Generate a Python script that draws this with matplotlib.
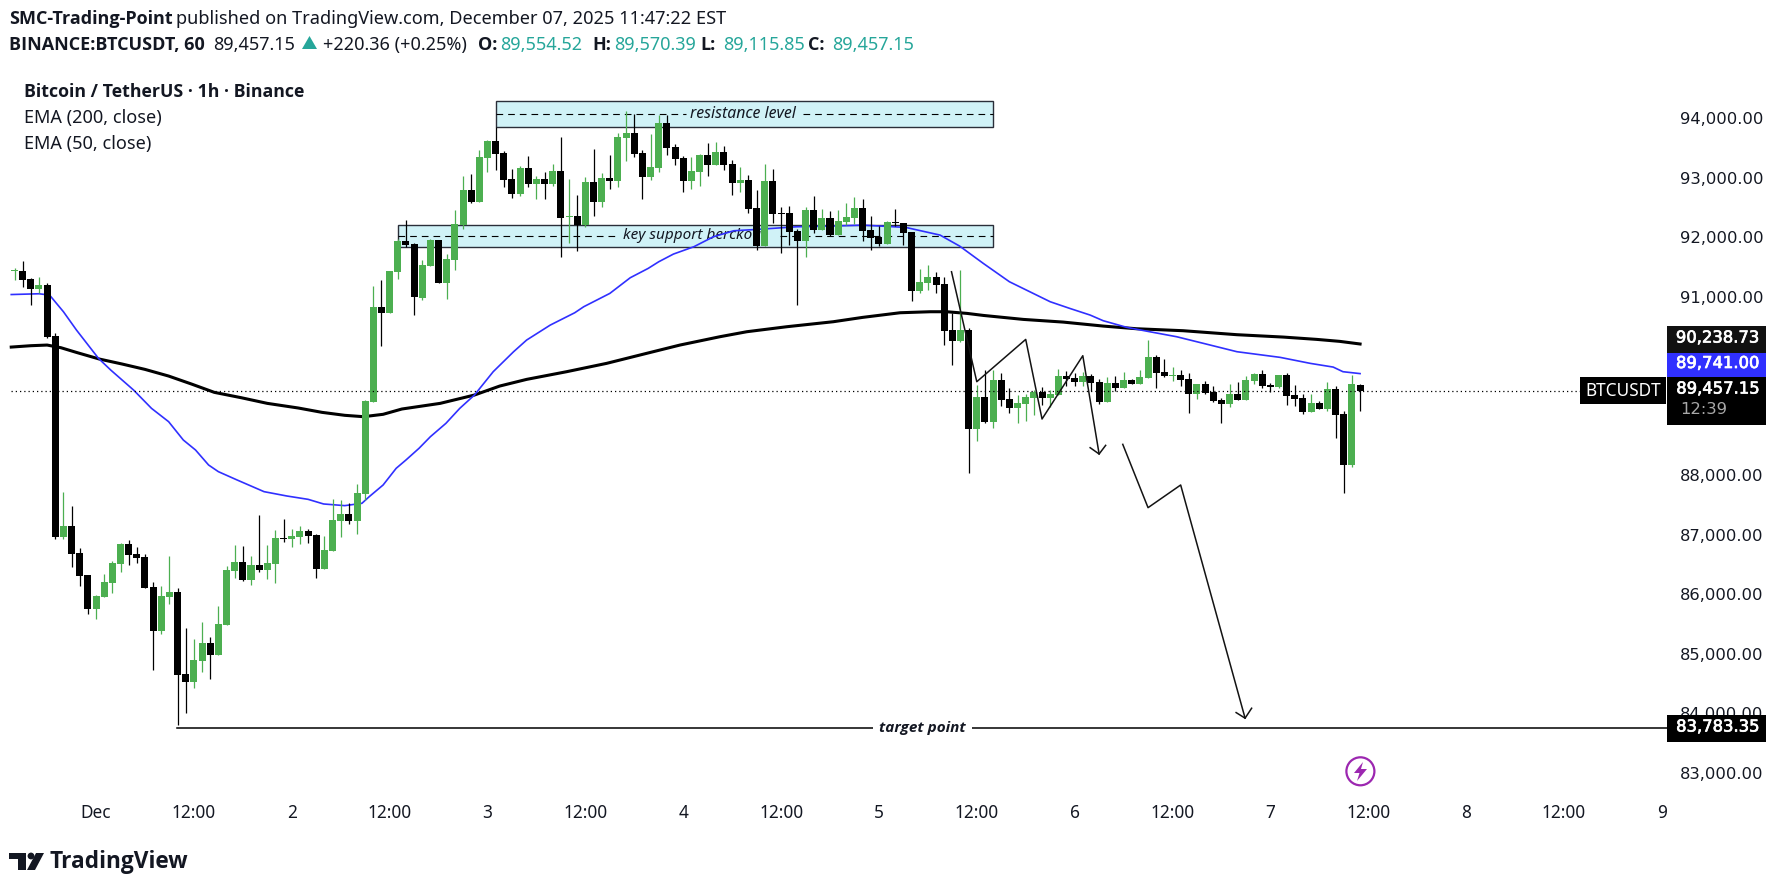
"""BTCUSDT 1h candle chart with EMAs and hand drawn zones, TradingView style."""
import numpy as np
import matplotlib
matplotlib.use("Agg")
import matplotlib.pyplot as plt
import matplotlib.patheffects as pe
from matplotlib.patches import Rectangle, Circle, Polygon
from matplotlib.transforms import IdentityTransform, ScaledTranslation

W, H = 1785, 889
FONT = "Noto Sans"
BOLD_FONT = "Open Sans"
PRICE_FONT = "DejaVu Sans"
INK = "#131722"
TEAL = "#26a69a"
UP = "#4CAF50"
DOWN = "#000000"
BLUE = "#3030FF"
ZONE = "#D0F2F7"

opens = [91465, 91464, 91330, 91167, 91229, 90372, 87001, 87180, 86727, 86357,
         85786, 85993, 86223, 86542, 86878, 86710, 86659, 86155, 85416, 85987,
         86071, 84694, 84559, 84912, 85215, 85013, 85517, 86424, 86575, 86273,
         86525, 86441, 86542, 86973, 86962, 87000, 87096, 87029, 86458, 86760,
         87264, 87382, 87264, 87718, 89269, 90859, 90753, 91447, 91968, 91918,
         91016, 91548, 91985, 91263, 91649, 92237, 92825, 92623, 93362, 93648,
         93447, 93010, 92758, 93195, 92926, 93010, 92926, 93144, 92371, 92388,
         92237, 92959, 92623, 93027, 92976, 93699, 93783, 93447, 93043, 93195,
         93951, 93547, 93363, 92976, 93127, 93413, 93245, 93463, 93262, 92943,
         92993, 92523, 91884, 92976, 92433, 92439, 92136, 91968, 92489, 92153,
         92355, 92063, 92287, 92355, 92523, 92153, 92035, 91918, 92287, 92271,
         92119, 91128, 91263, 91363, 91246, 90473, 90288, 90473, 88810, 89347,
         88927, 89633, 89314, 89163, 89230, 89331, 89431, 89331, 89381, 89700,
         89667, 89600, 89700, 89600, 89263, 89583, 89499, 89633, 89566, 89667,
         90019, 89767, 89706, 89717, 89650, 89398, 89566, 89431, 89297, 89230,
         89398, 89297, 89616, 89734, 89549, 89515, 89717, 89381, 89331, 89095,
         89247, 89146, 89482, 89062, 88205, 89554.52]
highs = [91520, 91632, 91352, 91358, 91257, 90428, 87757, 87516, 86811, 86357,
         86021, 86368, 86592, 86895, 86945, 86827, 86704, 86239, 86172, 86676,
         86139, 85467, 85282, 85567, 85315, 85836, 86508, 86861, 86844, 86676,
         87365, 86861, 87113, 87298, 87130, 87180, 87130, 87046, 87012, 87634,
         87617, 87567, 87886, 89300, 91212, 91313, 91464, 92002, 92321, 91935,
         91649, 92007, 91985, 91750, 92489, 93060, 93094, 93497, 93665, 93880,
         93480, 93178, 93228, 93396, 93060, 93127, 93262, 93715, 93010, 92741,
         93043, 93514, 93111, 93413, 93783, 94152, 94102, 93497, 93766, 94085,
         94085, 93598, 93396, 93379, 93430, 93615, 93631, 93564, 93329, 93211,
         93077, 92825, 93262, 93178, 92539, 92556, 92170, 92539, 92724, 92506,
         92472, 92489, 92607, 92707, 92674, 92388, 92220, 92304, 92506, 92271,
         92119, 91498, 91565, 91447, 91363, 90759, 91481, 90507, 89549, 89801,
         89801, 89751, 89499, 89381, 89398, 89465, 89515, 89465, 89818, 89784,
         89751, 89767, 89734, 89650, 89683, 89700, 89767, 89650, 89801, 90305,
         90053, 89986, 89851, 89801, 89751, 89566, 89616, 89532, 89331, 89566,
         89599, 89700, 89751, 89801, 89583, 89717, 89751, 89549, 89398, 89398,
         89280, 89599, 89532, 89112, 89717, 89570.39]
lows = [91313, 91201, 90893, 91089, 90339, 86967, 86956, 86497, 86178, 85702,
        85623, 85993, 86060, 86413, 86525, 86559, 86139, 84761, 85366, 85875,
        83837, 84039, 84459, 84727, 84610, 85013, 85517, 86307, 86256, 86189,
        86407, 86290, 86223, 86911, 86827, 86878, 86895, 86307, 86458, 86760,
        86995, 87214, 87046, 87617, 89269, 90210, 90753, 91330, 91873, 90725,
        90983, 91548, 91263, 90994, 91481, 92170, 92612, 92623, 93127, 93161,
        92875, 92691, 92724, 92875, 92674, 92674, 92892, 91699, 91935, 91800,
        92203, 92388, 92539, 92842, 92875, 93312, 93379, 92674, 92993, 93127,
        93413, 93245, 92791, 92842, 92892, 93060, 93245, 93161, 92741, 92791,
        92439, 91817, 91884, 92265, 91767, 91901, 90893, 91699, 92103, 92153,
        92052, 92063, 92237, 92254, 91968, 91817, 91884, 91918, 92220, 91901,
        90960, 91095, 91145, 91095, 90221, 89885, 90271, 88071, 88608, 88905,
        88827, 89196, 89079, 88911, 88944, 89045, 89213, 89180, 89381, 89532,
        89532, 89532, 89448, 89230, 89263, 89448, 89499, 89566, 89566, 89667,
        89499, 89683, 89616, 89532, 89079, 89314, 89398, 89263, 88911, 89180,
        89297, 89297, 89566, 89499, 89431, 89499, 89213, 89196, 89062, 89095,
        89146, 89112, 88659, 87735, 88171, 89115.85]
closes = [91475, 91313, 91167, 91229, 90361, 87001, 87180, 86715, 86346, 85786,
          86004, 86239, 86559, 86878, 86693, 86643, 86139, 85416, 86004, 86071,
          84677, 84559, 84929, 85215, 85013, 85534, 86441, 86575, 86273, 86525,
          86441, 86559, 86979, 86962, 87012, 87096, 87012, 86458, 86777, 87281,
          87382, 87264, 87735, 89280, 90865, 90764, 91464, 91968, 91901, 91033,
          91565, 91985, 91263, 91666, 92254, 92825, 92623, 93379, 93648, 93430,
          92999, 92763, 93195, 92926, 93010, 92926, 93144, 92355, 92388, 92243,
          92959, 92623, 93027, 92976, 93715, 93783, 93430, 93043, 93211, 93951,
          93531, 93346, 92976, 93144, 93413, 93245, 93463, 93245, 92943, 92993,
          92506, 91884, 92976, 92422, 92422, 92119, 91968, 92489, 92153, 92355,
          92063, 92304, 92371, 92523, 92136, 92019, 91918, 92287, 92265, 92103,
          91128, 91279, 91363, 91229, 90456, 90288, 90473, 88810, 89347, 88927,
          89633, 89297, 89163, 89247, 89347, 89431, 89331, 89398, 89700, 89650,
          89600, 89700, 89583, 89263, 89583, 89499, 89633, 89566, 89683, 90019,
          89751, 89700, 89717, 89633, 89398, 89566, 89415, 89280, 89230, 89398,
          89297, 89633, 89734, 89532, 89515, 89717, 89364, 89314, 89095, 89247,
          89146, 89482, 89045, 88205, 89566, 89457.15]

ema50_bars = [-0.4, 3, 4.3, 6, 7.6, 10.3, 11.8, 14.6, 16.8, 18.9, 20.7, 22.2, 23.8,
              25, 27.3, 30.6, 33.4, 36, 37.9, 40.5, 42.6, 43.5, 45.2, 46.8, 48,
              49.6, 51, 52.9, 54.6, 56.4, 58.7, 61.2, 62.8, 65.7, 68.7, 69.8, 73,
              75.5, 77.7, 79, 80.8, 83.3, 85.7, 88.2, 91, 95.9, 100, 104, 109.3,
              113.5, 115.9, 118.8, 122, 124.5, 127, 129.4, 131.9, 133.5, 136.4,
              139.2, 142.5, 145.8, 149.9, 155.2, 158.9, 161.7, 162.9, 165]
ema50_vals = [91070, 91083, 91061, 90781, 90473, 89997, 89801, 89465, 89157, 88933,
              88625, 88457, 88205, 88093, 87953, 87757, 87684, 87628, 87550, 87522,
              87561, 87673, 87869, 88149, 88289, 88485, 88681, 88905, 89157, 89381,
              89773, 90109, 90305, 90557, 90764, 90865, 91089, 91352, 91509, 91621,
              91750, 91873, 92041, 92142, 92164, 92209, 92220, 92237, 92198, 92069,
              91884, 91593, 91285, 91117, 90949, 90837, 90725, 90630, 90518, 90445,
              90361, 90249, 90109, 90014, 89913, 89851, 89773, 89741]
ema200_bars = [-0.4, 2, 4, 5.7, 7.6, 10.4, 13.2, 16, 18.9, 21.7, 24.5, 27.8, 31,
               34.8, 37.7, 40.5, 42.8, 45.2, 47.5, 52.2, 56.4, 59.5, 62.8, 67.7,
               72.6, 77.5, 81.6, 86.5, 89.8, 94.7, 100.4, 104, 108.6, 112.3, 114.3,
               116.8, 118.8, 123.7, 128.6, 133.5, 137.6, 143.3, 149.9, 155.6, 159.7,
               162.5, 165]
ema200_vals = [90187, 90210, 90221, 90176, 90097, 89986, 89902, 89812, 89700, 89566,
               89426, 89336, 89241, 89163, 89090, 89040, 89017, 89057, 89146, 89241,
               89381, 89532, 89644, 89773, 89913, 90081, 90221, 90361, 90445, 90529,
               90613, 90686, 90764, 90781, 90781, 90753, 90719, 90652, 90607, 90540,
               90495, 90462, 90395, 90355, 90316, 90283, 90238.73]

# hand drawn zigzags, the arrow heads are part of the same drawings
zig1_bars = [114.9, 118, 124, 126, 131, 133]
zig1_vals = [91453, 89605, 90316, 88978, 90042, 88390]
head1_bars = [131.9, 133, 133.8]
head1_vals = [88496, 88390, 88535]
zig2_bars = [135.9, 139, 143, 150.9]
zig2_vals = [88552, 87488, 87869, 83950]
head2_bars = [149.8, 150.9, 151.7]
head2_vals = [84044, 83950, 84117]

# 89,000 and 90,000 sit behind the last price labels, so they are not drawn
price_ticks = [83000, 84000, 85000, 86000, 87000, 88000, 91000, 92000, 93000, 94000]
time_ticks = [10 + 12 * k for k in range(17)]
time_labels = ["Dec", "12:00", "2", "12:00", "3", "12:00", "4", "12:00", "5",
               "12:00", "6", "12:00", "7", "12:00", "8", "12:00", "9"]

LAST = 89457.15
TARGET = 83783.35


def px_text(fig, x, y, s, **kw):
    kw.setdefault("family", FONT)
    kw.setdefault("color", INK)
    kw.setdefault("va", "center")
    return fig.text(x / W, 1 - y / H, s, **kw)


def bold_text(fig, x, y, s, **kw):
    return px_text(fig, x, y, s, family=BOLD_FONT, weight="bold", **kw)


def px_box(fig, x0, y0, x1, y1, color):
    fig.add_artist(Rectangle((x0, H - y1), x1 - x0, y1 - y0, facecolor=color,
                             edgecolor="none", transform=IdentityTransform()))


def draw_zone(ax, x0, x1, lo, hi, mid, gap, label, label_x, size):
    ax.add_patch(Rectangle((x0, lo), x1 - x0, hi - lo, facecolor=ZONE,
                           edgecolor="#2A2E39", lw=1.0, zorder=1))
    for a, b in [(x0, gap[0]), (gap[1], x1)]:
        ax.plot([a, b], [mid, mid], color="black", lw=0.8, ls=(0, (6, 4.5)), zorder=1.1)
    ax.text(label_x, mid, label, family=FONT, style="italic", fontsize=size,
            color=INK, ha="center", va="center", zorder=1.2)


def draw_chart(ax):
    o, h, l, c = map(np.array, (opens, highs, lows, closes))
    x = np.arange(len(o))
    colors = np.where(c >= o, UP, DOWN)

    draw_zone(ax, 59, 120, 93878, 94326, 94107, (82.4, 96.7), "resistance level", 89.3, 11.4)
    draw_zone(ax, 47, 120, 91862, 92243, 92058, (74, 93.9), "key support berckout", 83.45, 11)

    ax.plot(ema200_bars, ema200_vals, color="black", lw=2.2, zorder=2)
    ax.plot(ema50_bars, ema50_vals, color=BLUE, lw=1.2, zorder=2)

    ax.vlines(x, l, h, colors=colors, lw=0.9, zorder=3)
    ax.bar(x, np.abs(c - o), bottom=np.minimum(o, c), width=0.86, color=colors,
           linewidth=0, zorder=3)

    ax.plot([-0.4, 202.6], [LAST, LAST], color="black", lw=0.9,
            ls=(0, (1, 2.4)), zorder=4)
    ax.plot([19.9, 202.6], [TARGET, TARGET], color="black", lw=1.1, zorder=4)
    ax.text(111.3, TARGET, "target point", family=BOLD_FONT, style="italic", weight="bold",
            fontsize=11, color=INK, ha="center", va="center", zorder=5,
            bbox=dict(facecolor="white", edgecolor="none", pad=4.5))

    for xs, ys in [(zig1_bars, zig1_vals), (head1_bars, head1_vals),
                   (zig2_bars, zig2_vals), (head2_bars, head2_vals)]:
        ax.plot(xs, ys, color="#131313", lw=1.1, zorder=5)

    ax.set_xlim(-14.5 / 8.155, (1667 - 14.5) / 8.155)
    ax.set_ylim(88000 + (477.2 - 800) * 16.807, 88000 + (477.2 - 70) * 16.807)
    ax.set_xticks(time_ticks, time_labels)
    ax.set_yticks(price_ticks, [f"{p:,.2f}" for p in price_ticks])
    ax.yaxis.tick_right()
    ax.tick_params(length=0, colors=INK)
    ax.tick_params(axis="x", pad=3, labelsize=12.4)
    ax.tick_params(axis="y", pad=9, labelsize=11.8)
    for lab in ax.get_xticklabels():
        lab.set_family(FONT)
    lift = ScaledTranslation(0, 2 / 100, ax.figure.dpi_scale_trans)
    for lab in ax.get_yticklabels():
        lab.set_family(PRICE_FONT)
        lab.set_transform(lab.get_transform() + lift)
    for sp in ax.spines.values():
        sp.set_visible(False)


def draw_header(fig):
    bold_text(fig, 9, 19.5, "SMC-Trading-Point", fontsize=13)
    px_text(fig, 176, 19.5, "published on TradingView.com, December 07, 2025 11:47:22 EST",
            fontsize=13.1)
    bold_text(fig, 9, 45, "BINANCE:BTCUSDT, 60", fontsize=13)
    runs = [(213, "89,457.15", INK), (323, "+220.36 (+0.25%)", INK),
            (500, "89,554.52", TEAL), (614, "89,570.39", TEAL),
            (723, "89,115.85", TEAL), (832, "89,457.15", TEAL)]
    for x, s, col in runs:
        px_text(fig, x, 45, s, color=col, fontsize=13)
    for x, s in [(478, "O:"), (592, "H:"), (700, "L:"), (808, "C:")]:
        bold_text(fig, x, 45, s, fontsize=13)
    fig.add_artist(Polygon([(302, H - 49), (317, H - 49), (309.5, H - 36)], facecolor=TEAL,
                           edgecolor="none", transform=IdentityTransform()))

    bold_text(fig, 23.5, 92, "Bitcoin / TetherUS · 1h · Binance", fontsize=12.8)
    px_text(fig, 23.5, 118, "EMA (200, close)", fontsize=13)
    px_text(fig, 23.5, 144, "EMA (50, close)", fontsize=13)


def draw_price_labels(fig):
    px_box(fig, 1667, 326, 1766, 353, "#111111")
    px_box(fig, 1667, 353, 1766, 377, BLUE)
    px_box(fig, 1667, 377, 1766, 425, "#000000")
    px_box(fig, 1580, 377, 1666, 404, "#000000")
    px_box(fig, 1667, 715, 1766, 742, "#000000")
    heavy = [pe.withStroke(linewidth=0.5, foreground="white")]
    lab = dict(family=PRICE_FONT, color="white", fontsize=11.8, ha="right", path_effects=heavy)
    px_text(fig, 1759, 338, "90,238.73", **lab)
    px_text(fig, 1759, 363.5, "89,741.00", **lab)
    px_text(fig, 1759, 389, "89,457.15", **lab)
    px_text(fig, 1759, 727, "83,783.35", **lab)
    px_text(fig, 1680, 410, "12:39", family=PRICE_FONT, color="#A8A8A8", fontsize=11.8)
    px_text(fig, 1623, 390.5, "BTCUSDT", color="white", fontsize=12.4, ha="center")


def draw_marks(fig):
    # lightning badge
    tr = IdentityTransform()
    fig.add_artist(Circle((1360.4, H - 771.3), 14, facecolor="none", edgecolor="#9C27B0",
                          lw=1.6, transform=tr))
    bolt = [(1363, 762), (1354, 773), (1359.5, 773), (1357, 781), (1367, 769), (1361, 769)]
    fig.add_artist(Polygon([(x, H - y) for x, y in bolt], facecolor="#9C27B0",
                           edgecolor="none", transform=tr))
    # TradingView logo
    logo = [[(9, 853), (26, 853), (26, 870), (17.5, 870), (17.5, 859), (9, 859)],
            [(36, 853), (44, 853), (35, 870), (27, 870)]]
    for pts in logo:
        fig.add_artist(Polygon([(x, H - y) for x, y in pts], facecolor=INK,
                               edgecolor="none", transform=tr))
    fig.add_artist(Circle((31, H - 856), 3.4, facecolor=INK, edgecolor="none", transform=tr))
    bold_text(fig, 49.5, 861.5, "TradingView", fontsize=16.3)


def main():
    fig = plt.figure(figsize=(W / 100, H / 100), dpi=100, facecolor="white")
    ax = fig.add_axes([0, 1 - 800 / H, 1667 / W, 730 / H])
    draw_chart(ax)
    draw_header(fig)
    draw_price_labels(fig)
    draw_marks(fig)
    fig.savefig("out.png", dpi=100)
    plt.close(fig)


if __name__ == "__main__":
    main()
